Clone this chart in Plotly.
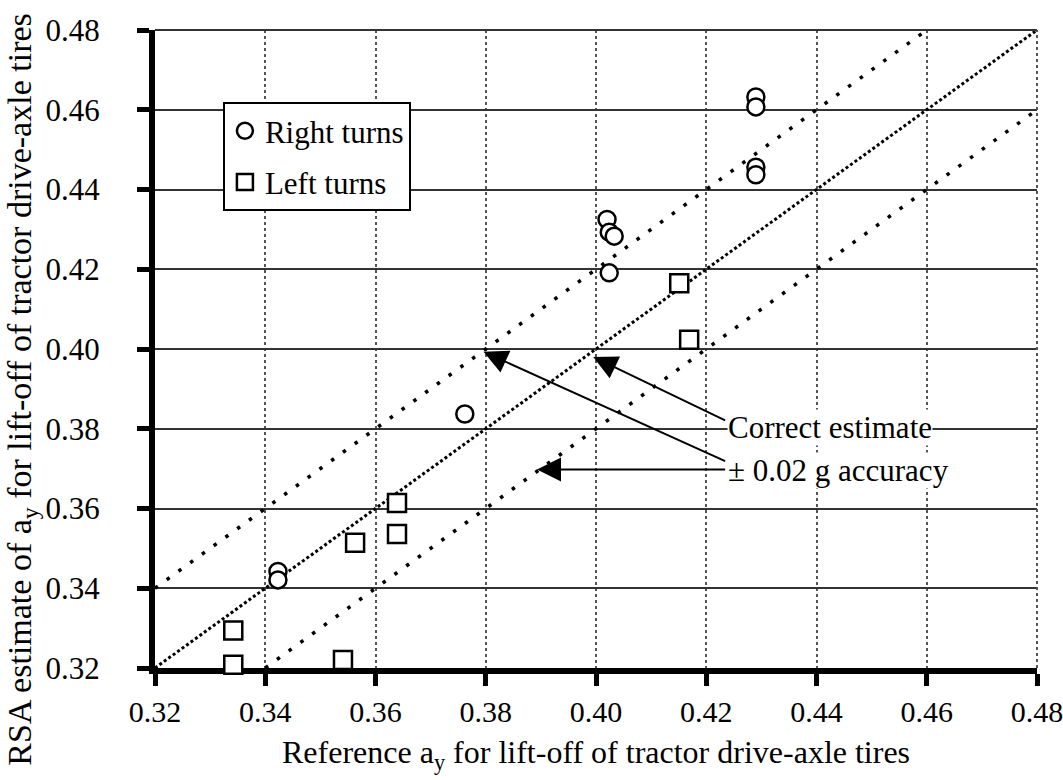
import plotly.graph_objects as go

# Reference lateral acceleration at drive-axle lift-off vs. the RSA estimate
right_ref = [0.4290, 0.4290, 0.4290, 0.4290, 0.4020, 0.4024, 0.4033, 0.4024, 0.3762, 0.3423, 0.3423]
right_rsa = [0.4632, 0.4607, 0.4456, 0.4437, 0.4325, 0.4293, 0.4283, 0.4191, 0.3837, 0.3442, 0.3421]

left_ref = [0.4151, 0.4169, 0.3639, 0.3639, 0.3563, 0.3342, 0.3342, 0.3541]
left_rsa = [0.4165, 0.4023, 0.3614, 0.3536, 0.3514, 0.3294, 0.3208, 0.3220]

axis_min, axis_max = 0.32, 0.48
tolerance = 0.02
tick_vals = [0.32, 0.34, 0.36, 0.38, 0.40, 0.42, 0.44, 0.46, 0.48]
tick_text = ["0.32", "0.34", "0.36", "0.38", "0.40", "0.42", "0.44", "0.46", "0.48"]

FONT = "'Liberation Serif', 'Times New Roman', Times, serif"
NBSP = "\u00a0"

fig = go.Figure()

# Correct-estimate line and the +/- tolerance band
fig.add_trace(go.Scatter(
    x=[axis_min, axis_max], y=[axis_min, axis_max], mode="lines",
    line=dict(color="black", width=3, dash="3px,2.5px"),
    showlegend=False, hoverinfo="skip"))
fig.add_trace(go.Scatter(
    x=[axis_min, axis_max - tolerance], y=[axis_min + tolerance, axis_max], mode="lines",
    line=dict(color="black", width=3.5, dash="3.5px,11px"),
    showlegend=False, hoverinfo="skip"))
fig.add_trace(go.Scatter(
    x=[axis_min + tolerance, axis_max], y=[axis_min, axis_max - tolerance], mode="lines",
    line=dict(color="black", width=3.5, dash="3.5px,11px"),
    showlegend=False, hoverinfo="skip"))

fig.add_trace(go.Scatter(
    x=right_ref, y=right_rsa, mode="markers", name="Right turns",
    legendgroup="right",
    marker=dict(symbol="circle", size=17, color="white", line=dict(width=2.5, color="black")),
    cliponaxis=False))
fig.add_trace(go.Scatter(
    x=left_ref, y=left_rsa, mode="markers", name="Left turns",
    legendgroup="left",
    marker=dict(symbol="square", size=18, color="white", line=dict(width=2.5, color="black")),
    cliponaxis=False))

# Callout labels and arrows
label_x = 0.4237
arrow_style = dict(xref="x", yref="y", axref="x", ayref="y", text="", showarrow=True,
                   arrowhead=2, arrowsize=2.4, arrowwidth=2, arrowcolor="black")
fig.add_annotation(x=0.3995, y=0.398, ax=label_x, ay=0.3819, **arrow_style)
fig.add_annotation(x=0.3796, y=0.3993, ax=label_x, ay=0.3717, **arrow_style)
fig.add_annotation(x=0.3893, y=0.3698, ax=label_x, ay=0.3698, **arrow_style)
fig.add_annotation(x=label_x, y=0.3803, xref="x", yref="y", text="Correct estimate",
                   showarrow=False, xanchor="left", bgcolor="white", borderpad=0,
                   font=dict(family=FONT, size=31, color="black"))
fig.add_annotation(x=label_x, y=0.3695, xref="x", yref="y", text="± 0.02 g accuracy",
                   showarrow=False, xanchor="left", bgcolor="white", borderpad=0,
                   font=dict(family=FONT, size=31, color="black"))

# Axis titles
fig.add_annotation(x=-0.151, y=0.436, xref="paper", yref="paper", textangle=-90,
                   text="RSA estimate of a<sub>y</sub> for lift-off of tractor drive-axle tires",
                   showarrow=False, xanchor="center", yanchor="middle",
                   font=dict(family=FONT, size=34, color="black"))
fig.add_annotation(x=0.5, y=-0.136, xref="paper", yref="paper",
                   text="Reference a<sub>y</sub> for lift-off of tractor drive-axle tires",
                   showarrow=False, xanchor="center", yanchor="middle",
                   font=dict(family=FONT, size=32, color="black"))

# Thin frame on the top and right edges
fig.add_shape(type="line", xref="paper", yref="paper", x0=0, x1=1, y0=1, y1=1,
              line=dict(color="#333", width=2))
fig.add_shape(type="line", xref="paper", yref="paper", x0=1, x1=1, y0=0, y1=1,
              line=dict(color="#555", width=2, dash="dot"))

fig.update_xaxes(
    range=[axis_min, axis_max], tickvals=tick_vals, ticktext=tick_text,
    showgrid=True, gridcolor="#555", gridwidth=1.5, griddash="dot",
    showline=True, linecolor="black", linewidth=6, layer="below traces",
    ticks="outside", ticklen=12, tickwidth=5, tickcolor="black",
    ticklabeloverflow="allow", automargin=False,
    tickfont=dict(family=FONT, size=30, color="black"),
    zeroline=False)
fig.update_yaxes(
    range=[axis_min, axis_max], tickvals=tick_vals, ticktext=[t + NBSP * 4 for t in tick_text],
    showgrid=True, gridcolor="#333", gridwidth=1.5,
    showline=True, linecolor="black", linewidth=6, layer="below traces",
    ticks="outside", ticklen=12, tickwidth=5, tickcolor="black",
    automargin=False,
    tickfont=dict(family=FONT, size=31, color="black"),
    zeroline=False)

fig.update_layout(
    width=1063, height=780,
    margin=dict(l=155, r=26, t=30, b=112),
    paper_bgcolor="white", plot_bgcolor="white",
    showlegend=True,
    legend=dict(x=0.077, y=0.887, xanchor="left", yanchor="top",
                bgcolor="white", bordercolor="black", borderwidth=2,
                font=dict(family=FONT, size=31, color="black"),
                traceorder="grouped", tracegroupgap=8,
                itemwidth=30),
)

fig.write_html("out.html")
